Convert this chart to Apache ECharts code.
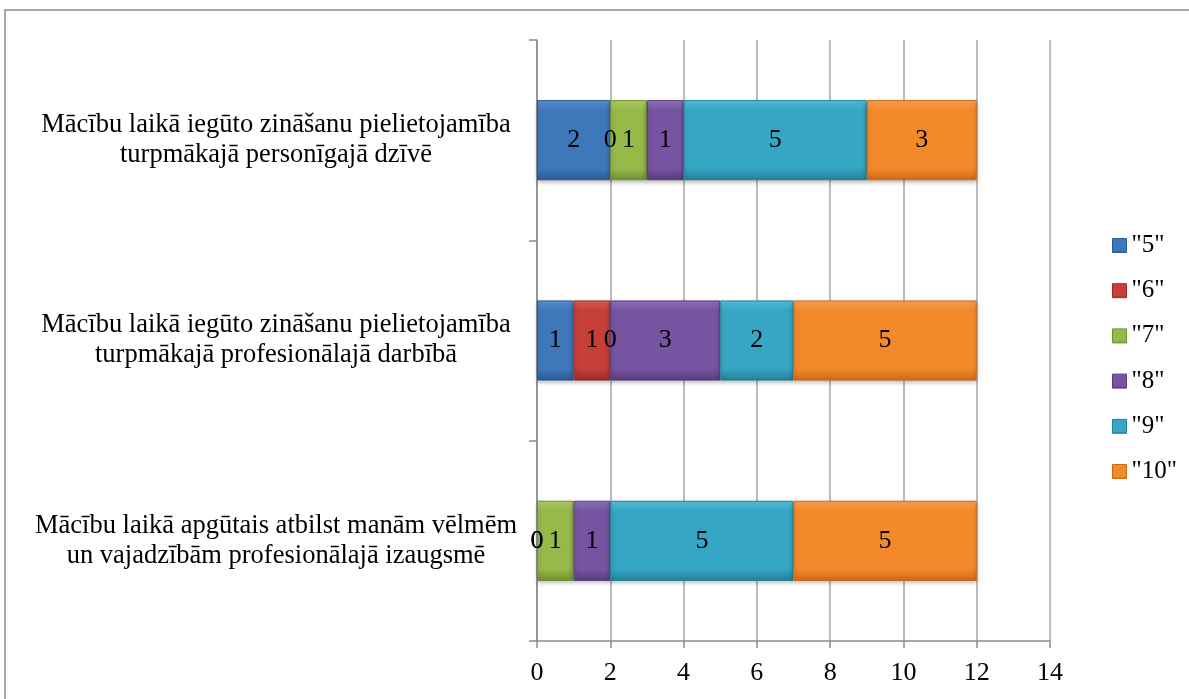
<!DOCTYPE html>
<html>
<head>
<meta charset="utf-8">
<script src="https://cdn.jsdelivr.net/npm/echarts@6/dist/echarts.min.js"></script>
<style>
html,body{margin:0;padding:0;background:#fff;}
#chart{width:1189px;height:699px;}
</style>
</head>
<body>
<div id="chart"></div>
<script>
// Categories (bottom to top as drawn by a category y-axis)
const categories = [
  'Mācību laikā apgūtais atbilst manām vēlmēm\nun vajadzībām profesionālajā izaugsmē',
  'Mācību laikā iegūto zināšanu pielietojamība\nturpmākajā profesionālajā darbībā',
  'Mācību laikā iegūto zināšanu pielietojamība\nturpmākajā personīgajā dzīvē'
];
const seriesNames = ['"5"', '"6"', '"7"', '"8"', '"9"', '"10"'];
const s5  = [0, 1, 2];
const s6  = [0, 1, 0];
const s7  = [1, 0, 1];
const s8  = [1, 3, 1];
const s9  = [5, 2, 5];
const s10 = [5, 5, 3];
const seriesValues = [s5, s6, s7, s8, s9, s10];
const xTicks = [0, 2, 4, 6, 8, 10, 12, 14];

const baseColors = ['#3E78BB', '#C63F38', '#96B949', '#7654A1', '#35A6C3', '#F4892B'];
const lightColors = ['#5E95D4', '#E0625A', '#B2D16A', '#9577BD', '#5AC6DF', '#FBA857'];
const darkColors = ['#2C5B94', '#992C27', '#718F35', '#573D7E', '#267F97', '#C96A18'];

const FONT = "'Liberation Serif', 'Times New Roman', serif";

function grad(i) {
  return new echarts.graphic.LinearGradient(0, 0, 0, 1, [
    {offset: 0, color: lightColors[i]},
    {offset: 0.12, color: baseColors[i]},
    {offset: 0.85, color: baseColors[i]},
    {offset: 1, color: darkColors[i]}
  ]);
}

const chart = echarts.init(document.getElementById('chart'), null, {renderer: 'canvas'});
const option = {
  backgroundColor: '#ffffff',
  animation: false,
  graphic: [{
    type: 'rect',
    shape: {x: 5, y: 10, width: 1200, height: 700},
    style: {fill: 'none', stroke: '#8c8c8c', lineWidth: 1.5},
    z: 0
  }],
  legend: {
    orient: 'vertical',
    left: 1107,
    top: 228,
    icon: 'rect',
    itemWidth: 14,
    itemHeight: 14,
    itemGap: 20.2,
    textStyle: {fontFamily: FONT, fontSize: 25, color: '#000', lineHeight: 22},
    data: seriesNames.map((n, i) => ({name: n, itemStyle: {color: grad(i), borderColor: darkColors[i], borderWidth: 1}}))
  },
  grid: {left: 537, right: 139, top: 40, bottom: 58, containLabel: false},
  xAxis: {
    type: 'value',
    min: 0,
    max: 14,
    interval: 2,
    axisLine: {show: true, lineStyle: {color: '#8a8a8a', width: 1.5}},
    axisTick: {show: true, length: 7, lineStyle: {color: '#8a8a8a', width: 1.5}},
    axisLabel: {fontFamily: FONT, fontSize: 26, color: '#000', margin: 19, lineHeight: 26,
      formatter: v => xTicks.includes(v) ? String(v) : ''},
    splitLine: {show: true, lineStyle: {color: '#a6a6a6', width: 1.5}}
  },
  yAxis: {
    type: 'category',
    data: categories,
    axisLine: {show: true, lineStyle: {color: '#8a8a8a', width: 1.5}},
    axisTick: {show: true, length: 8, alignWithLabel: false, lineStyle: {color: '#8a8a8a', width: 1.5}},
    axisLabel: {fontFamily: FONT, fontSize: 26.5, color: '#000', align: 'center', margin: 261, lineHeight: 30},
    splitLine: {show: false}
  },
  series: seriesNames.map((n, i) => ({
    name: n,
    type: 'bar',
    stack: 'total',
    barWidth: '40%',
    data: seriesValues[i].map(v => v === 0
      ? {value: v, itemStyle: {borderWidth: 0, shadowBlur: 0, shadowOffsetY: 0, opacity: 0}, label: {opacity: 1}}
      : v),
    itemStyle: {color: grad(i), borderColor: darkColors[i], borderWidth: 1,
      shadowColor: 'rgba(0,0,0,0.25)', shadowBlur: 4, shadowOffsetY: 2},
    label: {show: true, position: 'inside', fontFamily: FONT, fontSize: 26, color: '#000'}
  }))
};
chart.setOption(option);
</script>
</body>
</html>
